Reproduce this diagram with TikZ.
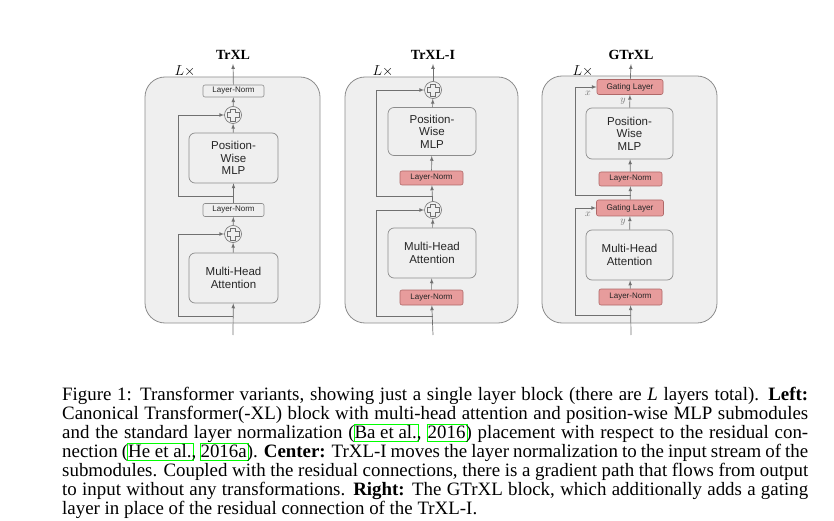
\documentclass[tikz,border=0pt]{standalone}
\usepackage{xcolor}
\usepackage{fontspec}
\setmainfont{Liberation Serif}
\newfontfamily\boxfont{Liberation Sans}
\usepackage{tikz}
\usetikzlibrary{arrows}
\usetikzlibrary{shapes}
\usetikzlibrary{positioning}

\definecolor{panelgray}{HTML}{EFEFEF}
\definecolor{edgegray}{HTML}{8C8C8C}
\definecolor{linegray}{HTML}{707070}
\definecolor{normred}{HTML}{E79C9C}
\definecolor{normedge}{HTML}{AF6868}
\definecolor{linkgreen}{HTML}{00FF00}
\definecolor{boxtext}{HTML}{262626}

% green frame round a citation, drawn over the text
\newcommand\lnk[1]{\leavevmode\rlap{\kern-1pt\color{linkgreen}\setlength\fboxsep{0pt}\setlength\fboxrule{1pt}\fbox{\rule[-3pt]{0pt}{15pt}\phantom{#1}\kern1pt}}\mbox{#1}}

\tikzset{
  panel/.style={rectangle, rounded corners=20pt, draw=edgegray, fill=panelgray, line width=0.8pt},
  block/.style={rectangle, rounded corners=6pt, draw=edgegray, fill=panelgray, line width=0.7pt, align=center, text=boxtext, font=\boxfont\fontsize{11.5}{12.5}\selectfont},
  normbox/.style={rectangle, rounded corners=2pt, draw=normedge, fill=normred, line width=0.6pt, text=boxtext, inner sep=0pt, font=\boxfont\fontsize{8}{9}\selectfont},
  plainnorm/.style={rectangle, rounded corners=2pt, draw=edgegray, fill=panelgray, line width=0.6pt, text=boxtext, inner sep=0pt, font=\boxfont\fontsize{8}{9}\selectfont},
  gatebox/.style={normbox, font=\boxfont\fontsize{8.2}{9}\selectfont},
  addnode/.style={circle, draw=linegray, fill=panelgray, minimum size=17pt, inner sep=0pt, line width=0.6pt,
    path picture={\draw[linegray, line width=0.5pt, shift={(path picture bounding box.center)}]
      (-2.3,6) -- (2.3,6) -- (2.3,2.3) -- (6,2.3) -- (6,-2.3) -- (2.3,-2.3) -- (2.3,-6) -- (-2.3,-6)
      -- (-2.3,-2.3) -- (-6,-2.3) -- (-6,2.3) -- (-2.3,2.3) -- cycle;}},
  conn/.style={-latex, draw=linegray, line width=0.7pt},
  title/.style={font=\bfseries\fontsize{14}{16}\selectfont},
  times/.style={font=\fontsize{14}{16}\selectfont},
  varlabel/.style={font=\fontsize{10}{12}\selectfont, text=linegray, inner sep=0pt}
}

\begin{document}
\begin{tikzpicture}[x=1pt, y=-1pt]
\useasboundingbox (0,0) rectangle (834,521);

% TrXL
\node [panel, minimum width=175pt, minimum height=246pt] (bgA) at (232.5,200) {};
\node [title] (titleA) at (233,55) {TrXL};
\node [times] (LxA) at (185,71) {$L\times$};
\node [plainnorm, minimum width=61pt, minimum height=12pt] (lnA2) at (233.5,91) {Layer-Norm};
\node [addnode] (addA2) at (233,115) {};
\node [block, minimum width=89pt, minimum height=50pt] (mlpA) at (233.5,158) {Position-\\Wise\\MLP};
\node [plainnorm, minimum width=61pt, minimum height=13pt] (lnA1) at (233.5,210) {Layer-Norm};
\node [addnode] (addA1) at (233,234) {};
\node [block, minimum width=89pt, minimum height=50pt, font=\boxfont\fontsize{11.5}{13.5}\selectfont] (mhaA) at (233.5,278) {Multi-Head\\Attention};
\coordinate (inA) at (233,335);
\coordinate (outA) at (233,64);
\coordinate (brA1) at (233,316);
\coordinate (cA1) at (178,316);
\coordinate (brA2) at (233,196);
\coordinate (cA2) at (178,196);
\draw [conn] (inA) -- (mhaA);
\draw [conn] (mhaA) -- (addA1);
\draw [conn] (addA1) -- (lnA1);
\draw [conn] (lnA1) -- (mlpA);
\draw [conn] (mlpA) -- (addA2);
\draw [conn] (addA2) -- (lnA2);
\draw [conn] (lnA2) -- (outA);
\draw [conn] (brA1) -- (cA1) |- (addA1);
\draw [conn] (brA2) -- (cA2) |- (addA2);

% TrXL-I
\node [panel, minimum width=173pt, minimum height=246pt] (bgB) at (431.5,200) {};
\node [title] (titleB) at (433,55) {TrXL-I};
\node [times] (LxB) at (383,71) {$L\times$};
\node [addnode] (addB2) at (433,90) {};
\node [block, minimum width=88pt, minimum height=48pt] (mlpB) at (432,131.5) {Position-\\Wise\\MLP};
\node [normbox, minimum width=63pt, minimum height=14pt] (lnB2) at (431.5,178) {Layer-Norm};
\node [addnode] (addB1) at (433,210) {};
\node [block, minimum width=88pt, minimum height=50pt, font=\boxfont\fontsize{11.5}{13.5}\selectfont] (mhaB) at (432,253) {Multi-Head\\Attention};
\node [normbox, minimum width=63pt, minimum height=15pt] (lnB1) at (431.5,297.5) {Layer-Norm};
\coordinate (inB) at (433,335);
\coordinate (outB) at (433,64);
\coordinate (brB1) at (433,316);
\coordinate (cB1) at (376,316);
\coordinate (brB2) at (433,196);
\coordinate (cB2) at (376,196);
\draw [conn] (inB) -- (lnB1);
\draw [conn] (lnB1) -- (mhaB);
\draw [conn] (mhaB) -- (addB1);
\draw [conn] (addB1) -- (lnB2);
\draw [conn] (lnB2) -- (mlpB);
\draw [conn] (mlpB) -- (addB2);
\draw [conn] (addB2) -- (outB);
\draw [conn] (brB1) -- (cB1) |- (addB1);
\draw [conn] (brB2) -- (cB2) |- (addB2);

% GTrXL
\node [panel, minimum width=175pt, minimum height=247pt] (bgC) at (629.5,199.5) {};
\node [title] (titleC) at (631,55) {GTrXL};
\node [times] (LxC) at (583,71) {$L\times$};
\node [gatebox, minimum width=66pt, minimum height=15pt] (gateC2) at (630,87) {Gating Layer};
\node [block, minimum width=87pt, minimum height=51pt] (mlpC) at (629.5,133.5) {Position-\\Wise\\MLP};
\node [normbox, minimum width=63pt, minimum height=14pt] (lnC2) at (630.5,179) {Layer-Norm};
\node [gatebox, minimum width=67pt, minimum height=16pt] (gateC1) at (630,208) {Gating Layer};
\node [block, minimum width=87pt, minimum height=50pt, font=\boxfont\fontsize{11.5}{13.5}\selectfont] (mhaC) at (629.5,255) {Multi-Head\\Attention};
\node [normbox, minimum width=63pt, minimum height=16pt] (lnC1) at (630.5,297) {Layer-Norm};
\node [varlabel] (xC2) at (588,93) {$x$};
\node [varlabel] (yC2) at (623,101) {$y$};
\node [varlabel] (xC1) at (588,214) {$x$};
\node [varlabel] (yC1) at (623,222) {$y$};
\coordinate (inC) at (631,335);
\coordinate (outC) at (631,64);
\coordinate (brC1) at (631,315);
\coordinate (cC1) at (575,315);
\coordinate (brC2) at (631,195);
\coordinate (cC2) at (575,195);
\draw [conn] (inC) -- (lnC1);
\draw [conn] (lnC1) -- (mhaC);
\draw [conn] (mhaC) -- (gateC1);
\draw [conn] (gateC1) -- (lnC2);
\draw [conn] (lnC2) -- (mlpC);
\draw [conn] (mlpC) -- (gateC2);
\draw [conn] (gateC2) -- (outC);
\draw [conn] (brC1) -- (cC1) |- (gateC1);
\draw [conn] (brC2) -- (cC2) |- (gateC2);

% caption
\node [anchor=north west, inner sep=0pt, text width=746pt, align=justify, font=\fontsize{18.9}{19}\selectfont] (caption) at (62,386.5) {%
Figure 1: Transformer variants, showing just a single layer block (there are \textit{L} layers total). \textbf{Left:}\linebreak
Canonical Transformer(-XL) block with multi-head attention and position-wise MLP submodules\linebreak
and the standard layer normalization (\lnk{Ba et al.}, \lnk{2016}) placement with respect to the residual con-\linebreak
nection (\lnk{He et al.}, \lnk{2016a}). \textbf{Center:} TrXL-I moves the layer normalization to the input stream of the\linebreak
submodules. Coupled with the residual connections, there is a gradient path that flows from output\linebreak
to input without any transformations. \textbf{Right:} The GTrXL block, which additionally adds a gating\linebreak
layer in place of the residual connection of the TrXL-I.};
\end{tikzpicture}
\end{document}
